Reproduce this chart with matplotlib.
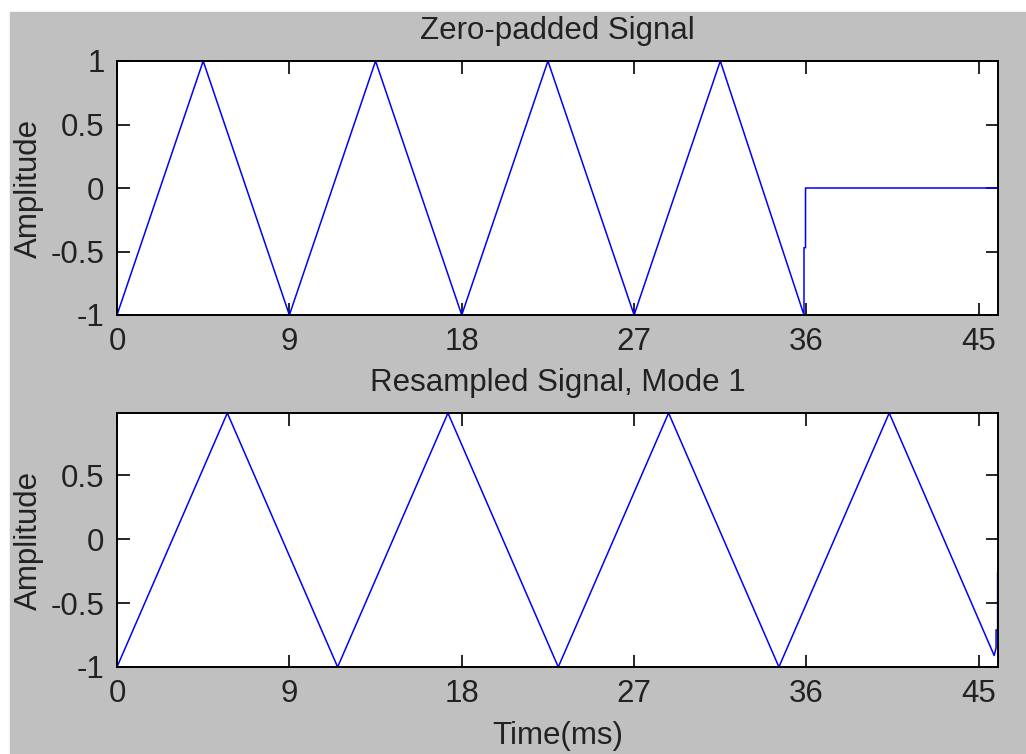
import matplotlib.pyplot as plt
from matplotlib.patches import Rectangle

plt.rcParams['font.family'] = ['Liberation Sans', 'DejaVu Sans']

# senal original (triangular, 4 periodos) rellenada con ceros
t_pad = [0, 4.5, 9, 13.5, 18, 22.5, 27, 31.5, 35.87, 35.87, 35.95, 35.95, 46]
y_pad = [-1, 1, -1, 1, -1, 1, -1, 1, -1, -0.47, -0.47, 0, 0]

# senal remuestreada, modo 1
t_res = [0, 5.76, 11.52, 17.28, 23.04, 28.8, 34.56, 40.32, 45.8, 45.9, 45.9, 45.98, 45.98]
y_res = [-1, 0.985, -1, 0.985, -1, 0.985, -1, 0.985, -0.91, -0.85, -0.71, -0.71, -0.26]

xticks = [0, 9, 18, 27, 36, 45]
yticks_pad = [-1, -0.5, 0, 0.5, 1]
yticks_res = [-1, -0.5, 0, 0.5]

gris = '#c0c0c0'
fs = 22.5

fig = plt.figure(figsize=(10.26, 7.54), dpi=100, facecolor='white')
fondo = Rectangle((10 / 1026, 0), 1, (754 - 12) / 754,
                  transform=fig.transFigure, color=gris, zorder=-10)
fig.patches.append(fondo)


def ejes(pos, t, y, yticks, ylim, titulo):
    ax = fig.add_axes(pos)
    ax.set_zorder(1)
    ax.plot(t, y, color='#0000ff', lw=1.1)
    ax.set_xlim(0, 46)
    ax.set_ylim(*ylim)
    ax.set_xticks(xticks)
    ax.set_yticks(yticks)
    ax.set_xticklabels([str(v) for v in xticks])
    ax.set_yticklabels(['%g' % v for v in yticks])
    ax.tick_params(direction='in', length=9, width=1.2, labelsize=fs,
                   labelcolor='#222222', top=True, right=True, pad=9)
    for s in ax.spines.values():
        s.set_linewidth(1.4)
    ax.set_title(titulo, fontsize=fs, pad=16, color='#222222')
    ax.set_ylabel('Amplitude', fontsize=fs, labelpad=5, color='#222222')
    return ax


ax1 = ejes([117 / 1026, 439 / 754, 881 / 1026, 254 / 754],
           t_pad, y_pad, yticks_pad, (-1, 1), 'Zero-padded Signal')
ax2 = ejes([117 / 1026, 87 / 754, 881 / 1026, 254 / 754],
           t_res, y_res, yticks_res, (-1, 0.985), 'Resampled Signal, Mode 1')
ax2.set_xlabel('Time(ms)', fontsize=fs, labelpad=8, color='#222222')

fig.savefig('out.png', dpi=100, facecolor=fig.get_facecolor())
